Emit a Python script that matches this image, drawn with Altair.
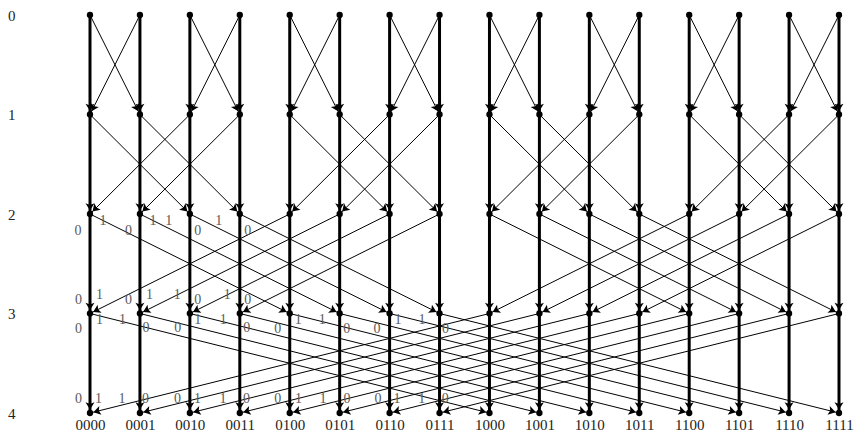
import math
import altair as alt
import pandas as pd

# ---- data ----
levels = [0, 1, 2, 3, 4]
level_labels = ["0", "1", "2", "3", "4"]
columns = list(range(16))
column_labels = ["0000", "0001", "0010", "0011", "0100", "0101", "0110", "0111",
                 "1000", "1001", "1010", "1011", "1100", "1101", "1110", "1111"]

# edge labels: level, column, text, offset from node in px (dx, dy)
edge_label_level = [2]*8 + [3]*8 + [3]*16 + [4]*16
edge_label_col = [0, 0, 1, 1, 2, 2, 3, 3,
                  0, 0, 1, 1, 2, 2, 3, 3,
                  0, 0, 1, 1, 2, 2, 3, 3, 4, 4, 5, 5, 6, 6, 7, 7,
                  0, 0, 1, 1, 2, 2, 3, 3, 4, 4, 5, 5, 6, 6, 7, 7]
edge_label_text = ["0", "1", "0", "1", "1", "0", "1", "0",
                   "0", "1", "0", "1", "1", "0", "1", "0",
                   "0", "1", "1", "0", "0", "1", "1", "0", "0", "1", "1", "0", "0", "1", "1", "0",
                   "0", "1", "1", "0", "0", "1", "1", "0", "0", "1", "1", "0", "0", "1", "1", "0"]
edge_label_dx = [-12, 13, -11.5, 13, -21, 8, -21, 8,
                 -11.5, 9.5, -11.5, 9.5, -12.5, 8, -12.5, 8,
                 -11.5, 9.5, -17.5, 6, -12, 8, -16.5, 7, -12, 8.5, -17.5, 7, -12.5, 8.5, -17.5, 6,
                 -11.5, 8.5, -18, 5.5, -12.3, 7.7, -16.7, 6.7, -12, 8.7, -16.7, 7.3, -11.5, 7.5, -17.7, 5.7]
edge_label_dy = [16.5, 7, 16.5, 7, 7, 16.5, 7, 16.5,
                 -14, -19, -14, -19, -19, -14, -19, -14,
                 15.5, 6, 6, 14.5, 14.5, 6, 6, 14.5, 15, 6, 6, 15, 15, 6, 6, 15,
                 ] + [-14]*16

# ---- layout ----
W, H = 749, 398
PX = W / (len(columns) - 1)
PY = H / (len(levels) - 1)
ARROW_SIZE = 81
ARROW_BACK = 3.5 + math.sqrt(ARROW_SIZE) / 2
ARROW_PATH = "M0,1 L-1,-0.6 L0,-0.25 L1,-0.6 Z"

nodes = pd.DataFrame([{"col": c, "level": l} for l in levels for c in columns])

rows = []
for l in levels[:-1]:
    bit = 1 << l
    for c in columns:
        for kind, c2 in (("straight", c), ("cross", c ^ bit)):
            dxp = (c2 - c) * PX
            dyp = PY
            L = math.hypot(dxp, dyp)
            ax = c2 - ARROW_BACK * dxp / L / PX
            ay = (l + 1) - ARROW_BACK * dyp / L / PY
            ang = math.degrees(math.atan2(-dxp, dyp)) % 360
            rows.append({"x": c, "y": l, "x2": c2, "y2": l + 1, "kind": kind,
                         "ax": ax, "ay": ay, "angle": ang})
edges = pd.DataFrame(rows)

labels = pd.DataFrame({
    "x": [c + dx / PX for c, dx in zip(edge_label_col, edge_label_dx)],
    "y": [l + dy / PY for l, dy in zip(edge_label_level, edge_label_dy)],
    "text": edge_label_text,
})

FONT = "Liberation Serif, serif"
col_expr = "[" + ",".join("'%s'" % s for s in column_labels) + "][datum.value]"
lev_expr = "[" + ",".join("'%s'" % s for s in level_labels) + "][datum.value]"

xscale = alt.Scale(domain=[0, 15], nice=False, zero=False)
yscale = alt.Scale(domain=[0, 4], nice=False, zero=False, reverse=True)

xaxis = alt.Axis(values=columns, labelExpr=col_expr, title=None, grid=False,
                 domain=False, ticks=False, tickSize=0, labelPadding=4,
                 labelFlush=False, labelOverlap=False, labelAlign="center",
                 labelFont=FONT, labelFontSize=15, labelColor="#222222",
                 labelFontWeight="normal")
yaxis = alt.Axis(values=levels, labelExpr=lev_expr, title=None, grid=False,
                 domain=False, ticks=False, tickSize=0, labelPadding=75,
                 labelFlush=False, labelOverlap=False,
                 labelAlign="right", labelBaseline="middle",
                 labelFont=FONT, labelFontSize=15, labelColor="#222222")

cross = alt.Chart(edges).transform_filter(alt.datum.kind == "cross").mark_rule(
    color="black", strokeWidth=1
).encode(
    x=alt.X("x:Q", scale=xscale, axis=xaxis),
    y=alt.Y("y:Q", scale=yscale, axis=yaxis),
    x2="x2:Q", y2="y2:Q",
)

straight = alt.Chart(edges).transform_filter(alt.datum.kind == "straight").mark_rule(
    color="black", strokeWidth=3
).encode(x="x:Q", y="y:Q", x2="x2:Q", y2="y2:Q")

arrows = alt.Chart(edges).mark_point(
    shape=ARROW_PATH, size=ARROW_SIZE, filled=True, color="black", opacity=1, strokeWidth=0
).encode(
    x="ax:Q", y="ay:Q", angle=alt.Angle("angle:Q", scale=None)
)

dots = alt.Chart(nodes).mark_circle(size=40, color="black", opacity=1).encode(
    x="col:Q", y="level:Q"
)

texts = alt.Chart(labels).mark_text(
    font=FONT, fontSize=14, color="#5a5a5a", align="center", baseline="middle"
).encode(x="x:Q", y="y:Q", text="text:N")

chart = alt.layer(cross, straight, arrows, dots, texts).properties(
    width=W, height=H,
    padding={"left": 82, "top": 7, "right": 16, "bottom": 20},
    autosize=alt.AutoSizeParams(type="none"),
).configure_view(stroke=None)

chart.save("out.html", embed_options={"renderer": "svg", "actions": False})
